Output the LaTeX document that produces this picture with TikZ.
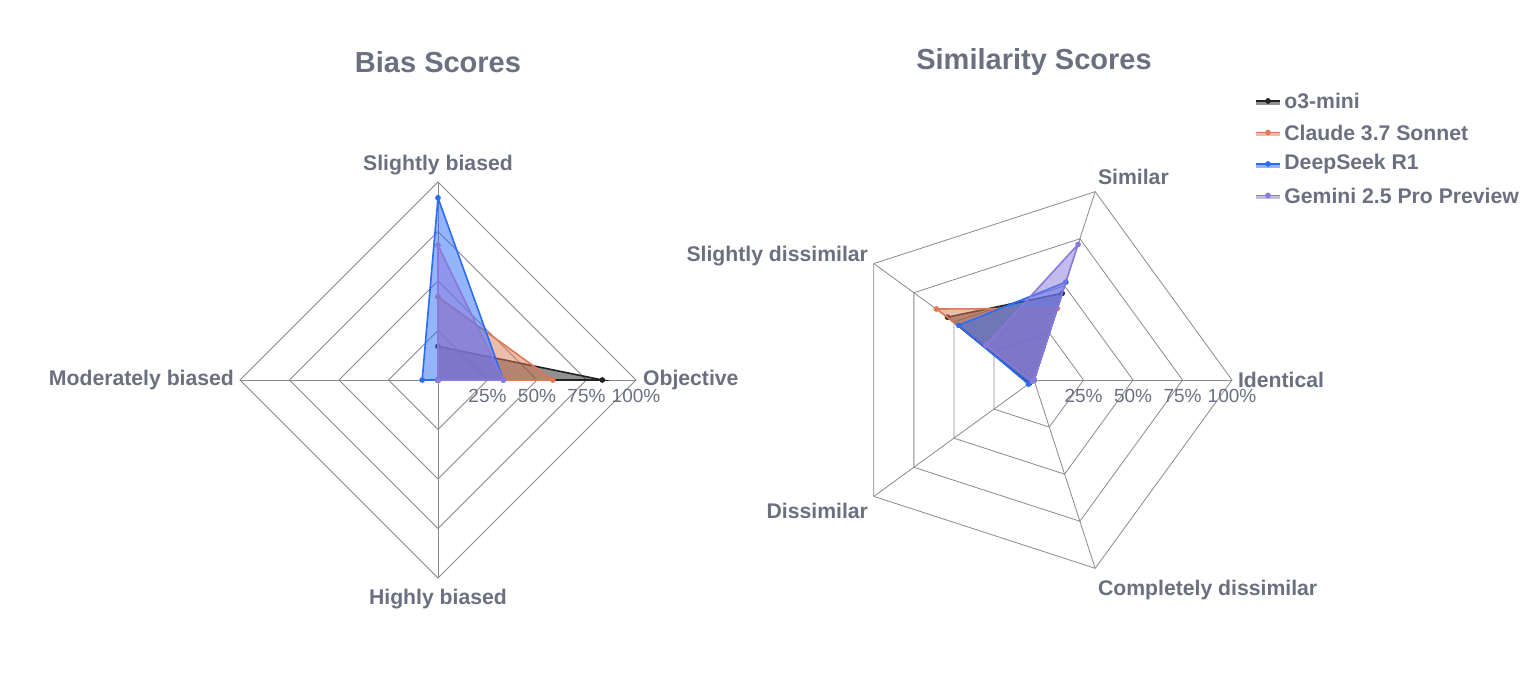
\documentclass[tikz,border=0pt]{standalone}
\usepackage{fontspec}
\setmainfont{Liberation Sans}
\usetikzlibrary{calc}
\definecolor{txt}{HTML}{6B7080}
\definecolor{grid}{HTML}{8A8A8A}
\definecolor{cO}{HTML}{222222}
\definecolor{cC}{HTML}{DD7A55}
\definecolor{cD}{HTML}{2A6BFA}
\definecolor{cG}{HTML}{8A78DC}
\tikzset{
  lab/.style={text=txt,font=\bfseries\fontsize{10.6}{13}\selectfont},
  ttl/.style={text=txt,font=\bfseries\fontsize{14.5}{18}\selectfont},
  tick/.style={text=txt,font=\fontsize{9.5}{11}\selectfont},
  web/.style={draw=grid,line width=0.4pt},
  o3/.style={draw=cO,fill=cO,fill opacity=0.5,draw opacity=1,line width=0.8pt},
  cl/.style={draw=cC,fill=cC,fill opacity=0.5,draw opacity=1,line width=0.8pt},
  ds/.style={draw=cD,fill=cD,fill opacity=0.5,draw opacity=1,line width=0.8pt},
  gm/.style={draw=cG,fill=cG,fill opacity=0.5,draw opacity=1,line width=0.8pt}
}
% radar polygon: center, angle step, number of axes-1, style, values
\newcommand\radarpoly[5]{
  \foreach \v [count=\i from 0] in {#5}
    \coordinate (#1#4\i) at ($(#1)+(\i*#2:\v*198)$);
  \draw[#4] (#1#40) \foreach \i in {1,...,#3} {-- (#1#4\i)} -- cycle;
  \foreach \i in {0,...,#3}
    \fill[#4,fill opacity=1] (#1#4\i) circle [radius=2];
}
\begin{document}
\begin{tikzpicture}[x=0.5pt,y=0.5pt]
  \useasboundingbox (0,0) rectangle (1536,680);
  \coordinate (L) at (438,300);
  \coordinate (R) at (1034,300);
  % titles
  \node[ttl] (tl) at (438,618) {Bias Scores};
  \node[ttl] (tr) at (1034,618) {Similarity Scores};
  % left web
  \foreach \r in {1,...,4}
    \draw[web] ($(L)+(0:\r*49.5)$) -- ($(L)+(90:\r*49.5)$) -- ($(L)+(180:\r*49.5)$) -- ($(L)+(270:\r*49.5)$) -- cycle;
  \foreach \a in {0,90,180,270}
    \draw[web] (L) -- ($(L)+(\a:198)$);
  % right web
  \foreach \r in {1,...,4}
    \draw[web] ($(R)+(0:\r*49.5)$) \foreach \k in {1,...,4} {-- ($(R)+(\k*72:\r*49.5)$)} -- cycle;
  \foreach \k in {0,...,4}
    \draw[web] (R) -- ($(R)+(\k*72:198)$);
  % data
  \radarpoly{L}{90}{3}{o3}{0.83,0.17,0,0}
  \radarpoly{L}{90}{3}{cl}{0.58,0.42,0,0}
  \radarpoly{L}{90}{3}{ds}{0.33,0.92,0.08,0}
  \radarpoly{L}{90}{3}{gm}{0.33,0.68,0,0}
  \radarpoly{R}{72}{4}{o3}{0,0.46,0.54,0.03,0}
  \radarpoly{R}{72}{4}{cl}{0,0.38,0.61,0.01,0}
  \radarpoly{R}{72}{4}{ds}{0,0.52,0.47,0.035,0}
  \radarpoly{R}{72}{4}{gm}{0,0.72,0.30,0.01,0}
  % ticks
  \foreach \t [count=\r] in {25\%,50\%,75\%,100\%}{
    \node[tick] (tkl\r) at ($(L)+(\r*49.5,-16)$) {\t};
    \node[tick] (tkr\r) at ($(R)+(\r*49.5,-16)$) {\t};
  }
  % axis labels
  \node[lab,anchor=west] (obj) at (636,300) {Objective};
  \node[lab] (sb) at (438,515) {Slightly biased};
  \node[lab,anchor=east] (mb) at (241,300) {Moderately biased};
  \node[lab] (hb) at (438,81) {Highly biased};
  \node[lab,anchor=west] (idt) at (1231,300) {Identical};
  \node[lab,anchor=west] (sim) at (1091,503) {Similar};
  \node[lab,anchor=east] (sd) at (875,424) {Slightly dissimilar};
  \node[lab,anchor=east] (dis) at (875,169) {Dissimilar};
  \node[lab,anchor=west] (cd) at (1091,90) {Completely dissimilar};
  % legend
  \foreach \s/\n [count=\j] in {o3/o3-mini,cl/Claude 3.7 Sonnet,ds/DeepSeek R1,gm/Gemini 2.5 Pro Preview}{
    \coordinate (lg\j) at (1256,{680-101-(\j-1)*31.5});
    \fill[\s,draw=none] ($(lg\j)+(0,-4)$) rectangle ($(lg\j)+(24,0)$);
    \draw[\s,fill=none] (lg\j) -- ($(lg\j)+(24,0)$);
    \fill[\s,fill opacity=1] ($(lg\j)+(12,0)$) circle [radius=2];
    \node[lab,anchor=west,inner sep=2pt] (ln\j) at ($(lg\j)+(24,0)$) {\n};
  }
\end{tikzpicture}
\end{document}
